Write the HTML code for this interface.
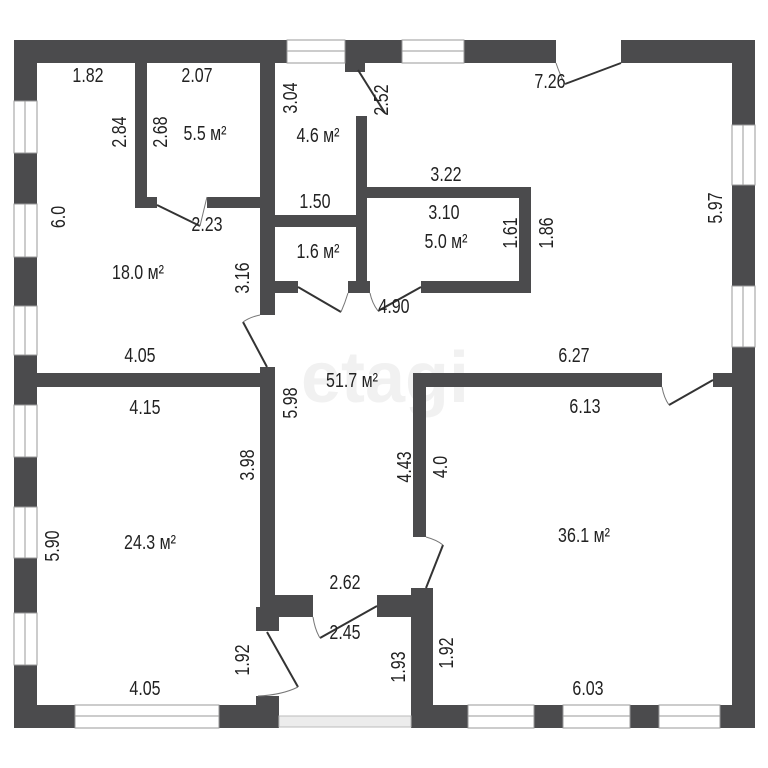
<!DOCTYPE html>
<html><head><meta charset="utf-8"><style>
html,body{margin:0;padding:0;background:#fff;}
svg{display:block;}
text{font-family:"Liberation Sans",sans-serif;font-size:20px;fill:#222;text-anchor:middle;}
</style></head><body>
<svg width="768" height="768" viewBox="0 0 768 768" xmlns="http://www.w3.org/2000/svg">
<rect width="768" height="768" fill="#fff"/>
<text x="385" y="402" style="font-size:72px;font-weight:bold;fill:#f1f1f1">etagi</text>
<g fill="#4b4b4d">
<rect x="14" y="40" width="741" height="23"/>
<rect x="14" y="40" width="23" height="688"/>
<rect x="732" y="40" width="23" height="688"/>
<rect x="14" y="705" width="741" height="23"/>
<rect x="135" y="63" width="12" height="145"/>
<rect x="135" y="197" width="22" height="11"/>
<rect x="207" y="197" width="55" height="11"/>
<rect x="260" y="63" width="15" height="252"/>
<rect x="260" y="367" width="15" height="240"/>
<rect x="275" y="215" width="85" height="12"/>
<rect x="356" y="116" width="11" height="172"/>
<rect x="275" y="281" width="23" height="12"/>
<rect x="348" y="281" width="22" height="12"/>
<rect x="345" y="63" width="20" height="9"/>
<rect x="367" y="187" width="164" height="11"/>
<rect x="519" y="187" width="12" height="106"/>
<rect x="421" y="281" width="110" height="12"/>
<rect x="37" y="373" width="238" height="14"/>
<rect x="413" y="373" width="249" height="14"/>
<rect x="713" y="373" width="19" height="14"/>
<rect x="413" y="373" width="13" height="164"/>
<rect x="260" y="595" width="53" height="22"/>
<rect x="256" y="607" width="23" height="24"/>
<rect x="377" y="595" width="56" height="22"/>
<rect x="411" y="588" width="22" height="140"/>
<rect x="256" y="696" width="23" height="32"/>
</g>
<g fill="#fff" stroke="#9a9a9a" stroke-width="1">
<rect x="287" y="40" width="58" height="23"/><line x1="287" y1="51" x2="345" y2="51"/>
<rect x="402" y="40" width="62" height="23"/><line x1="402" y1="51" x2="464" y2="51"/>
<rect x="14" y="101" width="23" height="52"/><line x1="25" y1="101" x2="25" y2="153"/>
<rect x="14" y="204" width="23" height="53"/><line x1="25" y1="204" x2="25" y2="257"/>
<rect x="14" y="306" width="23" height="49"/><line x1="25" y1="306" x2="25" y2="355"/>
<rect x="14" y="405" width="23" height="52"/><line x1="25" y1="405" x2="25" y2="457"/>
<rect x="14" y="507" width="23" height="51"/><line x1="25" y1="507" x2="25" y2="558"/>
<rect x="14" y="613" width="23" height="52"/><line x1="25" y1="613" x2="25" y2="665"/>
<rect x="732" y="125" width="23" height="60"/><line x1="743" y1="125" x2="743" y2="185"/>
<rect x="732" y="286" width="23" height="61"/><line x1="743" y1="286" x2="743" y2="347"/>
<rect x="75" y="705" width="144" height="23"/><line x1="75" y1="716" x2="219" y2="716"/>
<rect x="468" y="705" width="66" height="23"/><line x1="468" y1="716" x2="534" y2="716"/>
<rect x="563" y="705" width="67" height="23"/><line x1="563" y1="716" x2="630" y2="716"/>
<rect x="659" y="705" width="61" height="23"/><line x1="659" y1="716" x2="720" y2="716"/>
</g>
<rect x="556" y="40" width="65" height="23" fill="#fff"/>
<rect x="279" y="705" width="132" height="23" fill="#fff"/>
<rect x="279" y="716" width="132" height="11" fill="#ececec" stroke="#bbb" stroke-width="1"/>
<rect x="260" y="315" width="15" height="52" fill="#fff"/>
<rect x="662" y="373" width="51" height="14" fill="#fff"/>
<rect x="413" y="537" width="13" height="51" fill="#fff"/>
<g stroke="#333" stroke-width="2" fill="none">
<line x1="157" y1="205" x2="200" y2="226"/>
<line x1="358" y1="70" x2="385" y2="113"/>
<line x1="621" y1="63" x2="565" y2="84"/>
<line x1="298" y1="287" x2="341" y2="312"/>
<line x1="421" y1="287" x2="378" y2="311"/>
<line x1="243" y1="322" x2="267" y2="367"/>
<line x1="713" y1="380" x2="669" y2="405"/>
<line x1="426" y1="588" x2="443" y2="545"/>
<line x1="377" y1="606" x2="320" y2="638"/>
<line x1="267" y1="632" x2="298" y2="687"/>
</g>
<g stroke="#777" stroke-width="1" fill="none">
<path d="M207 197 Q205 205 200 226"/>
<path d="M556 63 Q560 75 565 84"/>
<path d="M348 293 Q345 303 341 312"/>
<path d="M370 293 Q372 303 378 311"/>
<path d="M243 322 Q250 317 260 315"/>
<path d="M662 387 Q664 398 669 405"/>
<path d="M426 537 Q437 540 443 545"/>
<path d="M313 617 Q315 630 320 638"/>
<path d="M298 687 Q282 695 258 696"/>
</g>
<g>
<text transform="translate(88,82) scale(0.8,1)">1.82</text>
<text transform="translate(197,82) scale(0.8,1)">2.07</text>
<text transform="translate(205,140) scale(0.8,1)">5.5 м²</text>
<text transform="translate(318,142) scale(0.8,1)">4.6 м²</text>
<text transform="translate(550,88) scale(0.8,1)">7.26</text>
<text transform="translate(315,208) scale(0.8,1)">1.50</text>
<text transform="translate(446,181) scale(0.8,1)">3.22</text>
<text transform="translate(444,219) scale(0.8,1)">3.10</text>
<text transform="translate(446,248) scale(0.8,1)">5.0 м²</text>
<text transform="translate(207,231) scale(0.8,1)">2.23</text>
<text transform="translate(318,258) scale(0.8,1)">1.6 м²</text>
<text transform="translate(138,279) scale(0.8,1)">18.0 м²</text>
<text transform="translate(394,313) scale(0.8,1)">4.90</text>
<text transform="translate(140,362) scale(0.8,1)">4.05</text>
<text transform="translate(574,362) scale(0.8,1)">6.27</text>
<text transform="translate(352,387) scale(0.8,1)">51.7 м²</text>
<text transform="translate(145,414) scale(0.8,1)">4.15</text>
<text transform="translate(585,413) scale(0.8,1)">6.13</text>
<text transform="translate(150,549) scale(0.8,1)">24.3 м²</text>
<text transform="translate(584,542) scale(0.8,1)">36.1 м²</text>
<text transform="translate(345,589) scale(0.8,1)">2.62</text>
<text transform="translate(345,639) scale(0.8,1)">2.45</text>
<text transform="translate(145,695) scale(0.8,1)">4.05</text>
<text transform="translate(588,695) scale(0.8,1)">6.03</text>
<text transform="translate(126,132) rotate(-90) scale(0.8,1)">2.84</text>
<text transform="translate(167,132) rotate(-90) scale(0.8,1)">2.68</text>
<text transform="translate(297,98) rotate(-90) scale(0.8,1)">3.04</text>
<text transform="translate(388,100) rotate(-90) scale(0.8,1)">2.52</text>
<text transform="translate(517,233) rotate(-90) scale(0.8,1)">1.61</text>
<text transform="translate(553,233) rotate(-90) scale(0.8,1)">1.86</text>
<text transform="translate(722,208) rotate(-90) scale(0.8,1)">5.97</text>
<text transform="translate(65,217) rotate(-90) scale(0.8,1)">6.0</text>
<text transform="translate(249,278) rotate(-90) scale(0.8,1)">3.16</text>
<text transform="translate(297,403) rotate(-90) scale(0.8,1)">5.98</text>
<text transform="translate(411,467) rotate(-90) scale(0.8,1)">4.43</text>
<text transform="translate(447,467) rotate(-90) scale(0.8,1)">4.0</text>
<text transform="translate(254,465) rotate(-90) scale(0.8,1)">3.98</text>
<text transform="translate(59,546) rotate(-90) scale(0.8,1)">5.90</text>
<text transform="translate(249,660) rotate(-90) scale(0.8,1)">1.92</text>
<text transform="translate(405,667) rotate(-90) scale(0.8,1)">1.93</text>
<text transform="translate(453,653) rotate(-90) scale(0.8,1)">1.92</text>
</g>
</svg>
</body></html>
